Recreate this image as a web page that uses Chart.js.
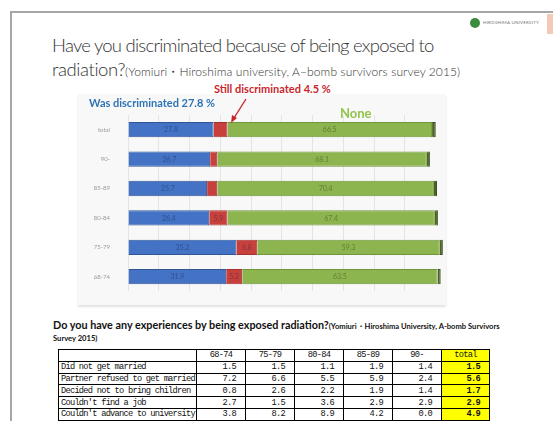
<!DOCTYPE html>
<html>
<head>
<meta charset="utf-8">
<script src="https://cdn.jsdelivr.net/npm/chart.js@4"></script>
<style>
  body { margin: 0; width: 553px; height: 421px; background: #fff; position: relative; overflow: hidden; font-family: Lato, "Noto Sans", sans-serif; }
  .abs { position: absolute; white-space: nowrap; }
  #frameTop { left: 10px; top: 11px; width: 543px; height: 2px; background: #a6a6a6; }
  #frameLeft { left: 10px; top: 11px; width: 2px; height: 410px; background: #a6a6a6; }
  #title1 { left: 52px; top: 34px; font-size: 18.5px; font-weight: 300; color: #333; letter-spacing: -0.75px; }
  #title2 { left: 52px; top: 58px; font-size: 18.5px; font-weight: 300; color: #333; letter-spacing: -0.4px; }
  #title2 small { font-size: 12px; font-weight: 300; letter-spacing: 0.1px; }
  #chartBox { left: 78px; top: 94px; width: 368px; height: 211px; background: #f8f8f8; box-shadow: 0 2px 2px rgba(0,0,0,0.12); }
  #chartWrap { left: 85px; top: 95px; width: 362px; height: 210px; }
  #still { left: 214px; top: 82px; font-size: 11px; font-weight: 700; color: #c8262c; }
  #was { left: 89px; top: 96px; font-size: 11px; font-weight: 700; color: #2e74b5; }
  #none { left: 340px; top: 105px; font-size: 13px; font-weight: 700; color: #92c54b; }
  #arrow { left: 225px; top: 96px; }
  #q2 { left: 53px; top: 318px; font-size: 10.8px; font-weight: 700; color: #111; }
  #q2 small { font-size: 7.6px; }
  #q2b { left: 53px; top: 333px; font-size: 7.6px; font-weight: 700; color: #111; }
  table { position: absolute; left: 58px; top: 349px; width: 431px; table-layout: fixed; border-collapse: collapse; font-family: "Liberation Mono", "DejaVu Sans Mono", monospace; font-size: 8.7px; letter-spacing: -0.75px; color: #111; }
  tr { height: 11.8px; }
  td { border: 1px solid #000; padding: 0 2px; line-height: 10px; white-space: nowrap; overflow: hidden; }
  td.c { text-align: center; }
  td.n { text-align: right; padding-right: 9px; }
  td.t { background: #ffff00; text-align: right; padding-right: 9px; font-weight: 700; }
  td.th { background: #ffff00; text-align: center; }
  #logoDot { left: 470px; top: 18px; width: 10px; height: 10px; border-radius: 50%; background: #3d8b3d; }
  #logoText { left: 483px; top: 20px; font-size: 4.5px; color: #777; letter-spacing: 0.2px; }
  #logoRed { left: 547px; top: 14px; width: 8px; height: 20px; background: #f4c9b8; }
</style>
</head>
<body>
<div class="abs" id="frameTop"></div>
<div class="abs" id="frameLeft"></div>
<div class="abs" id="logoDot"></div>
<div class="abs" id="logoText">HIROSHIMA UNIVERSITY</div>
<div class="abs" id="logoRed"></div>

<div class="abs" id="title1">Have you discriminated because of being exposed to</div>
<div class="abs" id="title2">radiation?<small>(Yomiuri・Hiroshima university, A−bomb survivors survey 2015)</small></div>

<div class="abs" id="chartBox"></div>
<div class="abs" id="chartWrap"><canvas id="c"></canvas></div>
<div class="abs" id="still">Still discriminated 4.5 %</div>
<div class="abs" id="was">Was discriminated 27.8 %</div>
<div class="abs" id="none">None</div>
<svg class="abs" id="arrow" width="30" height="30">
  <line x1="21" y1="3" x2="9" y2="22" stroke="#c8262c" stroke-width="1.4"/>
  <polygon points="6,27 7,19 12,22" fill="#c8262c"/>
</svg>

<div class="abs" id="q2">Do you have any experiences by being exposed radiation?<small>(Yomiuri・Hiroshima University, A-bomb Survivors</small></div>
<div class="abs" id="q2b">Survey 2015)</div>
<table id="tbl"></table>

<script>
// bar chart (percent)
const categories = ["total", "90-", "85-89", "80-84", "75-79", "68-74"];
const wasDiscriminated = [27.8, 26.7, 25.7, 26.4, 35.2, 31.9];
const stillDiscriminated = [4.5, 2.3, 3.3, 5.9, 6.8, 5.2];
const noneValues = [66.5, 68.1, 70.4, 67.4, 59.3, 63.5];
const noAnswer = [1.2, 1.0, 1.0, 1.0, 1.0, 1.0];

// table
const ageGroups = ["68-74", "75-79", "80-84", "85-89", "90-"];
const experiences = ["Did not get married", "Partner refused to get married", "Decided not to bring children", "Couldn't find a job", "Couldn't advance to university"];
const tableValues = [
  [1.5, 1.5, 1.1, 1.9, 1.4],
  [7.2, 6.6, 5.5, 5.9, 2.4],
  [0.8, 2.6, 2.2, 1.9, 1.4],
  [2.7, 1.5, 3.6, 2.9, 2.9],
  [3.8, 8.2, 8.9, 4.2, 0.0]
];
const totals = [1.5, 5.6, 1.7, 2.9, 4.9];

// build the table
const tbl = document.getElementById("tbl");
let html = '<colgroup><col style="width:138px">';
ageGroups.forEach(() => { html += '<col style="width:49px">'; });
html += '<col style="width:48px"></colgroup><tr><td></td>';
ageGroups.forEach(a => { html += `<td class="c">${a}</td>`; });
html += '<td class="th">total</td></tr>';
experiences.forEach((e, i) => {
  html += `<tr><td>${e}</td>`;
  tableValues[i].forEach(v => { html += `<td class="n">${v.toFixed(1)}</td>`; });
  html += `<td class="t">${totals[i].toFixed(1)}</td></tr>`;
});
tbl.innerHTML = html;

// faint numbers inside the bars
const barLabels = {
  id: "barLabels",
  afterDatasetsDraw(chart) {
    const ctx = chart.ctx;
    ctx.save();
    ctx.font = "7px Lato";
    ctx.textAlign = "center";
    ctx.textBaseline = "middle";
    chart.data.datasets.forEach((ds, di) => {
      if (di === 3) return;
      chart.getDatasetMeta(di).data.forEach((bar, i) => {
        const v = ds.data[i];
        if (v < 5) return;
        ctx.fillStyle = di === 2 ? "rgba(60,80,30,0.55)" : "rgba(20,40,80,0.45)";
        ctx.fillText(v.toFixed(1), (bar.x + bar.base) / 2, bar.y + 0.5);
      });
    });
    ctx.restore();
  }
};

new Chart(document.getElementById("c"), {
  type: "bar",
  data: {
    labels: categories,
    datasets: [
      { label: "Was discriminated", data: wasDiscriminated, backgroundColor: "#4472c4", borderColor: "#2f5597", borderWidth: 1 },
      { label: "Still discriminated", data: stillDiscriminated, backgroundColor: "#c8403c", borderColor: "#a33030", borderWidth: 1 },
      { label: "None", data: noneValues, backgroundColor: "#8db54f", borderColor: "#6f963a", borderWidth: 1 },
      { label: "No answer", data: noAnswer, backgroundColor: "#4b6327", borderColor: "#3c5220", borderWidth: 1 }
    ]
  },
  options: {
    indexAxis: "y",
    responsive: true,
    maintainAspectRatio: false,
    animation: false,
    layout: { padding: { top: 20, bottom: 8, right: 2, left: 0 } },
    datasets: { bar: { categoryPercentage: 1, barPercentage: 0.52 } },
    plugins: { legend: { display: false }, tooltip: { enabled: false } },
    scales: {
      x: {
        stacked: true, min: 0, max: 103,
        ticks: { display: false, stepSize: 10 },
        grid: { color: c => (c.tick && c.tick.value <= 100 ? "#e4e4e4" : "transparent"), drawTicks: false },
        border: { display: false }
      },
      y: {
        stacked: true,
        afterFit(s) { s.width = 43; },
        ticks: { color: "#999", font: { size: 6, family: "Lato" }, padding: 10 },
        grid: { display: false },
        border: { display: false }
      }
    }
  },
  plugins: [barLabels]
});
</script>
</body>
</html>
